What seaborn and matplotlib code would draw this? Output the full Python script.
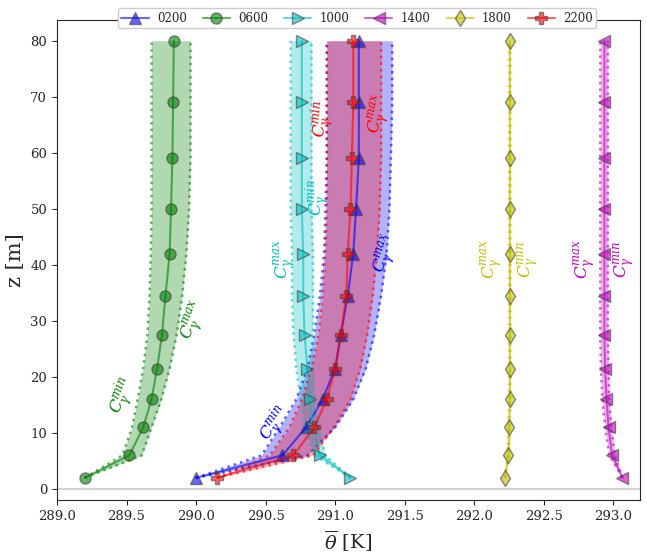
import numpy as np
import pandas as pd
import matplotlib
matplotlib.use("Agg")
import matplotlib.pyplot as plt
import seaborn as sns

# ---- data ----
z = [2, 6, 11, 16, 21.5, 27.5, 34.5, 42, 50, 59, 69, 80]
hours = ["0200", "0600", "1000", "1400", "1800", "2200"]

theta_0200 = [290.00, 290.62, 290.79, 290.91, 291.00, 291.04, 291.09, 291.13, 291.15, 291.17, 291.17, 291.17]
min_0200 = [290.00, 290.47, 290.60, 290.72, 290.80, 290.85, 290.89, 290.92, 290.93, 290.94, 290.94, 290.94]
max_0200 = [290.00, 290.80, 291.00, 291.13, 291.22, 291.28, 291.33, 291.37, 291.39, 291.40, 291.41, 291.41]

theta_0600 = [289.20, 289.52, 289.62, 289.68, 289.72, 289.755, 289.78, 289.81, 289.82, 289.83, 289.835, 289.84]
min_0600 = [289.20, 289.47, 289.54, 289.58, 289.62, 289.65, 289.665, 289.675, 289.68, 289.68, 289.68, 289.68]
max_0600 = [289.20, 289.61, 289.68, 289.75, 289.81, 289.86, 289.90, 289.93, 289.95, 289.96, 289.96, 289.96]

theta_1000 = [291.11, 290.89, 290.84, 290.82, 290.80, 290.78, 290.77, 290.77, 290.76, 290.76, 290.76, 290.76]
min_1000 = [291.11, 290.85, 290.78, 290.75, 290.72, 290.70, 290.69, 290.69, 290.68, 290.68, 290.68, 290.68]
max_1000 = [291.11, 290.93, 290.88, 290.85, 290.84, 290.84, 290.84, 290.84, 290.83, 290.83, 290.83, 290.83]

theta_1400 = [293.065, 292.99, 292.965, 292.95, 292.94, 292.935, 292.935, 292.935, 292.935, 292.935, 292.935, 292.935]
min_1400 = [293.065, 292.97, 292.94, 292.92, 292.91, 292.905, 292.905, 292.905, 292.905, 292.905, 292.905, 292.905]
max_1400 = [293.065, 293.01, 292.985, 292.97, 292.965, 292.96, 292.96, 292.96, 292.96, 292.96, 292.96, 292.96]

theta_1800 = [292.22, 292.245, 292.25, 292.255, 292.255, 292.255, 292.255, 292.255, 292.255, 292.255, 292.255, 292.255]
min_1800 = [292.22, 292.24, 292.245, 292.25, 292.25, 292.25, 292.25, 292.25, 292.25, 292.25, 292.25, 292.25]
max_1800 = [292.22, 292.25, 292.255, 292.26, 292.26, 292.26, 292.26, 292.26, 292.26, 292.26, 292.26, 292.26]

theta_2200 = [290.15, 290.70, 290.85, 290.94, 291.00, 291.04, 291.08, 291.09, 291.11, 291.12, 291.13, 291.13]
min_2200 = [290.15, 290.53, 290.67, 290.76, 290.83, 290.88, 290.91, 290.93, 290.94, 290.94, 290.94, 290.94]
max_2200 = [290.15, 290.84, 290.99, 291.11, 291.18, 291.23, 291.27, 291.30, 291.32, 291.33, 291.33, 291.33]

series = {
    "0200": (theta_0200, min_0200, max_0200),
    "0600": (theta_0600, min_0600, max_0600),
    "1000": (theta_1000, min_1000, max_1000),
    "1400": (theta_1400, min_1400, max_1400),
    "1800": (theta_1800, min_1800, max_1800),
    "2200": (theta_2200, min_2200, max_2200),
}
colors = {"0200": "blue", "0600": "green", "1000": "c", "1400": "m", "1800": "y", "2200": "red"}
markers = {"0200": "^", "0600": "o", "1000": ">", "1400": "<", "1800": "d", "2200": "P"}

# annotation labels: (hour, kind, theta, z, rotation)
ann_hour = ["0600", "0600", "1000", "1000", "2200", "2200", "0200", "0200", "1800", "1800", "1400", "1400"]
ann_kind = ["min", "max", "max", "min", "min", "max", "max", "min", "max", "min", "max", "min"]
ann_theta = [289.48, 289.99, 290.64, 290.88, 290.91, 291.32, 291.37, 290.57, 292.13, 292.38, 292.80, 293.07]
ann_z = [16.5, 30.0, 41.0, 52.0, 66.0, 67.0, 42.0, 11.5, 41.0, 41.0, 41.0, 41.0]
ann_rot = [68, 70, 90, 90, 85, 80, 72, 55, 90, 90, 90, 90]

# ---- plot ----
sns.set_style("ticks")
plt.rcParams["font.family"] = ["DejaVu Serif"]
plt.rcParams["mathtext.fontset"] = "dejavuserif"

fig = plt.figure(figsize=(6.47, 5.57), dpi=100)
ax = fig.add_axes([0.088, 0.102, 0.901, 0.862])

ax.axhline(0, color="lightgray", lw=1.5, zorder=0)

for h in hours:
    th, mn, mx = series[h]
    c = colors[h]
    ax.fill_betweenx(z, mn, mx, color=c, alpha=0.3, lw=0)
    ax.plot(mn, z, ls=":", color=c, lw=1.8, alpha=0.6)
    ax.plot(mx, z, ls=":", color=c, lw=1.8, alpha=0.6)
    df = pd.DataFrame({"theta": th, "z": z})
    sns.lineplot(data=df, x="theta", y="z", sort=False, estimator=None, ax=ax,
                 color=c, alpha=0.6, lw=1.5, marker=markers[h], markersize=8,
                 markeredgecolor="0.25", markeredgewidth=1.0, label=h)

for h, k, tx, tz, r in zip(ann_hour, ann_kind, ann_theta, ann_z, ann_rot):
    ax.text(tx, tz, r"$C_\gamma^{%s}$" % k, color=colors[h], fontsize=12,
            rotation=r, ha="center", va="center")

ax.set_xlim(289.0, 293.19)
ax.set_ylim(-2.0, 83.7)
ax.set_xticks(np.arange(289.0, 293.01, 0.5))
ax.set_yticks(np.arange(0, 81, 10))
ax.set_xlabel(r"$\overline{\theta}$ [K]", fontsize=14)
ax.set_ylabel("z [m]", fontsize=15)
ax.tick_params(labelsize=9.5)

ax.legend(loc="upper center", bbox_to_anchor=(0.515, 1.037), ncol=6, fontsize=8.5,
          frameon=True, framealpha=1.0, handlelength=2.3, columnspacing=1.35,
          handletextpad=0.7, borderpad=0.3)

fig.savefig("out.png", dpi=100)
